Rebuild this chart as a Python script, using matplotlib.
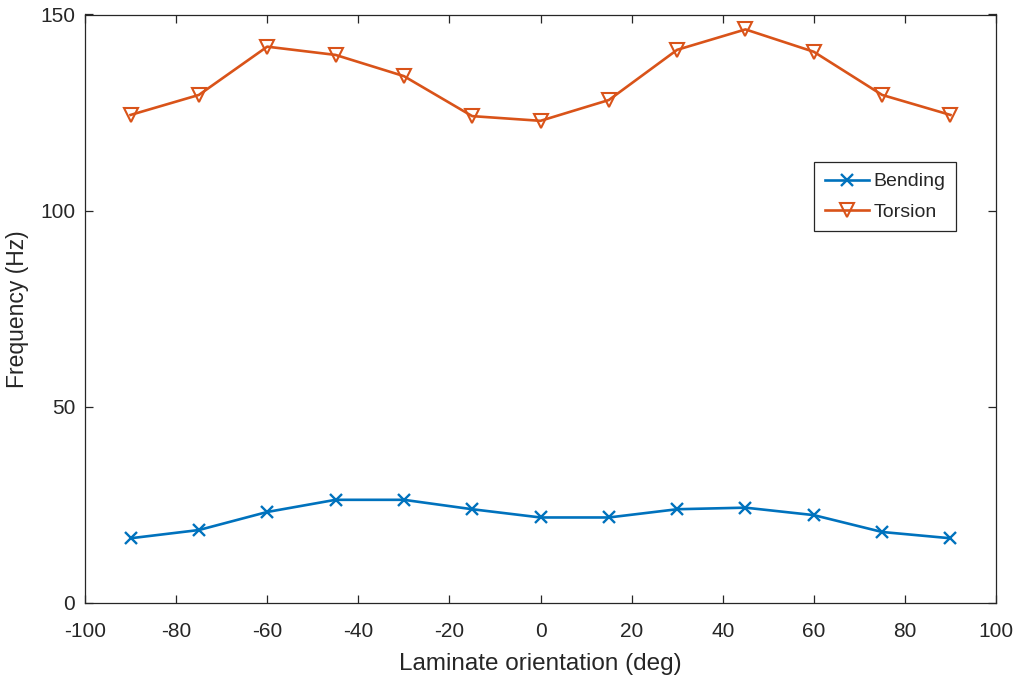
import matplotlib
matplotlib.use("Agg")
import matplotlib.pyplot as plt

# laminate orientation (deg) and natural frequencies (Hz)
orientation = [-90, -75, -60, -45, -30, -15, 0, 15, 30, 45, 60, 75, 90]
bending = [16.5, 18.6, 23.2, 26.3, 26.3, 23.9, 21.8, 21.8, 23.9, 24.3, 22.4, 18.1, 16.5]
torsion = [124.4, 129.5, 141.8, 139.7, 134.3, 124.1, 122.9, 128.2, 141.0, 146.2, 140.5, 129.5, 124.4]

x_ticks = list(range(-100, 101, 20))
y_ticks = [0, 50, 100, 150]

blue = '#0072BD'
orange = '#D95319'
dark = '#262626'

plt.rcParams['font.family'] = ['Liberation Sans', 'DejaVu Sans']
plt.rcParams['axes.unicode_minus'] = False  # plain hyphen like the original

fig = plt.figure(figsize=(10.18, 6.84), dpi=100)
ax = fig.add_axes([85 / 1018, 81 / 684, 911 / 1018, 588.5 / 684])

ax.plot(orientation, bending, color=blue, lw=1.9, marker='x',
        ms=8.5, mew=1.7, label='Bending')
ax.plot(orientation, torsion, color=orange, lw=1.9, marker='v',
        ms=9.5, mew=1.5, mfc='none', label='Torsion')

ax.set_xlim(-100, 100)
ax.set_ylim(0, 150)
ax.set_xticks(x_ticks)
ax.set_yticks(y_ticks)

for s in ax.spines.values():
    s.set_color(dark)
    s.set_linewidth(0.9)

ax.tick_params(direction='in', length=6, width=0.9, colors=dark,
               top=True, right=True, labelsize=15)
ax.tick_params(axis='x', pad=14)
ax.tick_params(axis='y', pad=7)

ax.set_xlabel('Laminate orientation (deg)', fontsize=17.5,
              color=dark, labelpad=8)
ax.set_ylabel('Frequency (Hz)', fontsize=16.5, color=dark, labelpad=8)

leg = ax.legend(loc='upper left', bbox_to_anchor=(814 / 1018, 1 - 162 / 684),
                bbox_transform=fig.transFigure, borderaxespad=0,
                fancybox=False, framealpha=1, edgecolor=dark,
                prop={'size': 14},
                handlelength=2.3, handletextpad=0.2, borderpad=0.55,
                labelspacing=0.65, numpoints=1)
leg.get_frame().set_linewidth(0.9)
for t in leg.get_texts():
    t.set_color(dark)

fig.savefig('out.png', dpi=100)
